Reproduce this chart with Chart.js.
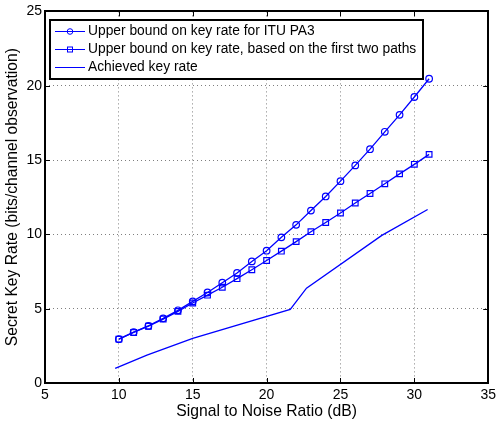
<!DOCTYPE html>
<html>
<head>
<meta charset="utf-8">
<script src="https://cdn.jsdelivr.net/npm/chart.js@4"></script>
<style>
  html, body { margin: 0; padding: 0; background: #fff; }
  #wrap { width: 500px; height: 424px; }
</style>
</head>
<body>
<div id="wrap"><canvas id="keyRateChart" width="500" height="424"></canvas></div>
<script>
// SNR values (dB) for the two bound curves
const snr = [10, 11, 12, 13, 14, 15, 16, 17, 18, 19, 20, 21, 22, 23, 24, 25, 26, 27, 28, 29, 30, 31];
const pa3Bound = [2.95, 3.42, 3.84, 4.35, 4.89, 5.49, 6.09, 6.75, 7.4, 8.18, 8.9, 9.8, 10.64, 11.6, 12.55, 13.58, 14.64, 15.73, 16.9, 18.04, 19.24, 20.47];
const twoPathBound = [2.95, 3.4, 3.82, 4.3, 4.82, 5.38, 5.91, 6.44, 7.02, 7.62, 8.24, 8.87, 9.51, 10.18, 10.8, 11.44, 12.11, 12.75, 13.4, 14.07, 14.71, 15.38];
// achieved key rate curve
const achievedSnr = [9.75, 11.9, 15, 21.6, 22.7, 27.8, 30.9];
const achievedRate = [0.98, 1.87, 3.0, 4.95, 6.38, 9.93, 11.67];

const labels = [
    "Upper bound on key rate for ITU PA3",
    "Upper bound on key rate, based on the first two paths",
    "Achieved key rate"
];
const xTicks = [5, 10, 15, 20, 25, 30, 35];
const yTicks = [0, 5, 10, 15, 20, 25];

const blue = "#0000ff";
const toPoints = (xs, ys) => xs.map((x, i) => ({ x: x, y: ys[i] }));

// draws the box, inward ticks and the legend inside the plot, matlab style
const matlabFrame = {
    id: "matlabFrame",
    afterDraw(chart) {
        const ctx = chart.ctx;
        const a = chart.chartArea;
        const xs = chart.scales.x, ys = chart.scales.y;
        ctx.save();

        const tl = 5;
        ctx.strokeStyle = "#000";
        ctx.lineWidth = 1;
        ctx.beginPath();
        xTicks.forEach(v => {
            const px = Math.round(xs.getPixelForValue(v)) + 0.5;
            ctx.moveTo(px, a.bottom); ctx.lineTo(px, a.bottom - tl);
            ctx.moveTo(px, a.top); ctx.lineTo(px, a.top + tl);
        });
        yTicks.forEach(v => {
            const py = Math.round(ys.getPixelForValue(v)) + 0.5;
            ctx.moveTo(a.left, py); ctx.lineTo(a.left + tl, py);
            ctx.moveTo(a.right, py); ctx.lineTo(a.right - tl, py);
        });
        ctx.stroke();

        ctx.lineWidth = 2;
        ctx.strokeRect(Math.round(a.left), Math.round(a.top),
                       Math.round(a.right - a.left), Math.round(a.bottom - a.top));

        // legend
        const bx = Math.round(a.left) + 5, by = Math.round(a.top) + 9, bw = 373, bh = 59;
        ctx.fillStyle = "#fff";
        ctx.fillRect(bx, by, bw, bh);
        ctx.strokeStyle = "#000";
        ctx.lineWidth = 2;
        ctx.strokeRect(bx, by, bw, bh);

        ctx.font = "13.8px 'Liberation Sans', Arial, sans-serif";
        ctx.textBaseline = "middle";
        const rows = [by + 11, by + 29, by + 47];
        chart.data.datasets.forEach((ds, i) => {
            const y = Math.round(rows[i]) + 0.5;
            ctx.strokeStyle = blue;
            ctx.lineWidth = 1;
            ctx.beginPath();
            ctx.moveTo(bx + 5, y); ctx.lineTo(bx + 35, y);
            ctx.stroke();
            if (ds.pointStyle === "circle") {
                ctx.beginPath();
                ctx.arc(bx + 20, y, 2.8, 0, Math.PI * 2);
                ctx.stroke();
            } else if (ds.pointStyle === "rect") {
                ctx.strokeRect(bx + 17.5, y - 2.5, 5, 5);
            }
            ctx.fillStyle = "#000";
            ctx.fillText(ds.label, bx + 38, y);
        });
        ctx.restore();
    }
};

const fontTick = { family: "'Liberation Sans', Arial, sans-serif", size: 14 };
const fontTitle = { family: "'Liberation Sans', Arial, sans-serif", size: 15.7 };

const ctx = document.getElementById("keyRateChart").getContext("2d");
new Chart(ctx, {
    type: "line",
    data: {
        datasets: [
            {
                label: labels[0],
                data: toPoints(snr, pa3Bound),
                borderColor: blue,
                backgroundColor: "rgba(0,0,0,0)",
                borderWidth: 1.3,
                pointStyle: "circle",
                pointRadius: 3.3,
                pointBorderWidth: 1.2,
            },
            {
                label: labels[1],
                data: toPoints(snr, twoPathBound),
                borderColor: blue,
                backgroundColor: "rgba(0,0,0,0)",
                borderWidth: 1.3,
                pointStyle: "rect",
                pointRadius: 4,
                pointBorderWidth: 1.2,
            },
            {
                label: labels[2],
                data: toPoints(achievedSnr, achievedRate),
                borderColor: blue,
                borderWidth: 1.3,
                pointRadius: 0,
                pointStyle: false,
            }
        ]
    },
    options: {
        responsive: false,
        animation: false,
        layout: { padding: { top: 8, right: 8, left: 0, bottom: 0 } },
        plugins: {
            legend: { display: false },
            tooltip: { enabled: false },
        },
        scales: {
            x: {
                type: "linear",
                min: 5,
                max: 35,
                afterFit: scale => { scale.height = 41; },
                afterBuildTicks: scale => { scale.ticks = xTicks.map(v => ({ value: v })); },
                grid: { color: "rgba(0,0,0,0.5)", drawTicks: false },
                border: { display: false, dash: [1, 3] },
                ticks: { color: "#000", padding: 4, maxRotation: 0, font: fontTick },
                title: {
                    display: true,
                    text: "Signal to Noise Ratio (dB)",
                    color: "#000",
                    padding: { top: 0, bottom: 3 },
                    font: fontTitle,
                },
            },
            y: {
                type: "linear",
                min: 0,
                max: 25,
                afterFit: scale => { scale.width = 45; },
                afterBuildTicks: scale => { scale.ticks = yTicks.map(v => ({ value: v })); },
                grid: { color: "rgba(0,0,0,0.5)", drawTicks: false },
                border: { display: false, dash: [1, 3] },
                ticks: { color: "#000", padding: 3, font: fontTick },
                title: {
                    display: true,
                    text: "Secret Key Rate (bits/channel observation)",
                    color: "#000",
                    padding: { top: 3.5, bottom: 0 },
                    font: fontTitle,
                },
            },
        },
    },
    plugins: [matlabFrame],
});
</script>
</body>
</html>
